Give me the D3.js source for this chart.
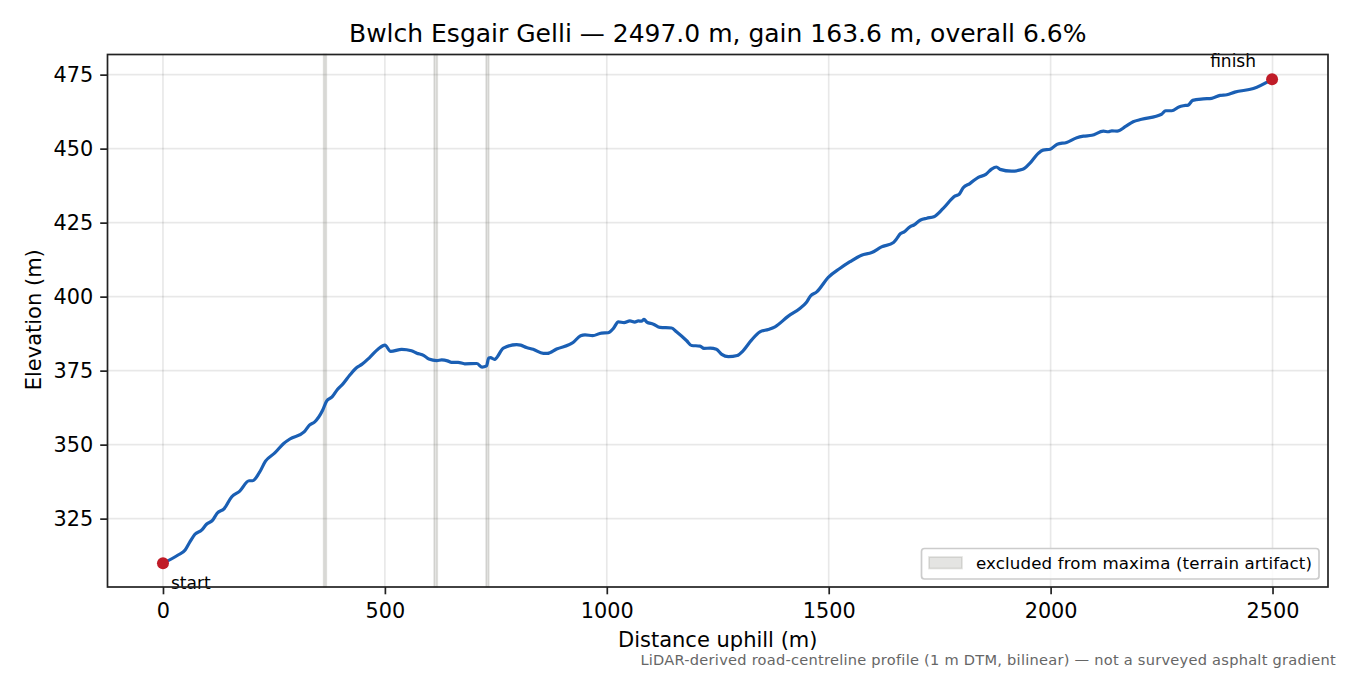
<!DOCTYPE html>
<html>
<head>
<meta charset="utf-8">
<script src="https://cdn.jsdelivr.net/npm/d3@7"></script>
<style>
  html, body { margin: 0; padding: 0; background: #fff; }
  svg { display: block; }
  text { font-family: "DejaVu Sans", sans-serif; fill: #000; }
</style>
</head>
<body>
<svg id="chart" width="1350" height="675"></svg>
<script>
const distance = [0, 34, 50, 61, 72, 87, 98, 112, 122, 138, 155, 173, 194, 202, 217, 231, 252, 272, 286, 318, 330, 342, 360, 369, 381, 393, 406, 421, 436, 448, 466, 485, 500, 513, 538, 560, 572, 588, 599, 617, 628, 641, 650, 665, 680, 707, 719, 729, 734, 738, 747, 767, 797, 806, 819, 834, 857, 866, 887, 924, 941, 951, 968, 988, 1003, 1015, 1026, 1039, 1052, 1063, 1071, 1078, 1084, 1090, 1105, 1120, 1146, 1157, 1180, 1191, 1210, 1219, 1233, 1247, 1259, 1274, 1294, 1307, 1326, 1345, 1364, 1379, 1409, 1435, 1449, 1459, 1473, 1499, 1525, 1548, 1574, 1597, 1619, 1646, 1652, 1662, 1670, 1683, 1692, 1707, 1721, 1737, 1758, 1785, 1794, 1803, 1818, 1837, 1854, 1867, 1878, 1886, 1912, 1937, 1953, 1972, 1983, 1999, 2015, 2036, 2059, 2074, 2093, 2119, 2130, 2138, 2150, 2168, 2186, 2205, 2250, 2259, 2273, 2289, 2299, 2310, 2320, 2344, 2363, 2382, 2397, 2415, 2457, 2499];
const elevation = [309.9, 312.7, 314.4, 317.2, 319.7, 321.1, 323.1, 324.5, 326.8, 328.4, 332.4, 334.3, 337.8, 337.8, 340.5, 344.4, 347.2, 350.4, 351.9, 354.3, 356.6, 357.7, 361.7, 364.8, 366.1, 368.6, 370.6, 373.5, 376, 377.1, 379.5, 382.3, 383.6, 381.5, 382.2, 381.7, 380.9, 380.1, 378.9, 378.4, 378.6, 378.3, 377.8, 377.8, 377.3, 377.4, 376.2, 376.6, 379.3, 379.4, 378.8, 382.6, 383.8, 383.6, 382.8, 382.2, 380.8, 380.8, 382.3, 384.5, 386.8, 387.1, 386.8, 387.7, 387.8, 389.3, 391.5, 391.2, 391.8, 391.4, 391.8, 391.7, 392.3, 391.4, 390.7, 389.6, 389.4, 388.1, 385.1, 383.5, 383.3, 382.5, 382.6, 382.2, 380.5, 379.7, 380.1, 381.7, 385.3, 388.1, 388.9, 389.8, 393.4, 396, 397.9, 400.2, 401.6, 406.5, 409.5, 411.8, 414, 414.9, 416.8, 418.3, 419.3, 421.3, 421.9, 423.6, 424.2, 425.9, 426.5, 427, 429.8, 434, 434.6, 436.8, 438.2, 440.3, 441.3, 443.1, 443.8, 443, 442.4, 443, 445, 448.4, 449.5, 449.8, 451.5, 452.1, 453.7, 454.2, 454.5, 455.9, 455.7, 456, 455.9, 457.4, 459.1, 459.9, 461.6, 462.8, 462.8, 464.1, 464.5, 464.7, 466.3, 466.8, 467, 468, 468.2, 469.1, 470.3, 473.4];

const excludedStart = [362, 611, 728];
const excludedEnd = [368, 618, 734];

const xTicks = [0, 500, 1000, 1500, 2000, 2500];
const yTicks = [325, 350, 375, 400, 425, 450, 475];

const titleText = 'Bwlch Esgair Gelli \u2014 2497.0 m, gain 163.6 m, overall 6.6%';
const legendText = 'excluded from maxima (terrain artifact)';
const footerText = 'LiDAR-derived road-centreline profile (1 m DTM, bilinear) \u2014 not a surveyed asphalt gradient';

const plotLeft = 107.5, plotRight = 1328, plotTop = 54.5, plotBottom = 587;

const xScale = d3.scaleLinear().domain([-125, 2625]).range([plotLeft, plotRight]);
const yScale = d3.scaleLinear().domain([301.9, 481.8]).range([plotBottom, plotTop]);

const svg = d3.select('#chart');

// grid
svg.append('g').selectAll('line').data(xTicks).join('line')
  .attr('x1', d => xScale(d)).attr('x2', d => xScale(d))
  .attr('y1', plotTop).attr('y2', plotBottom)
  .attr('stroke', '#000').attr('stroke-opacity', 0.09).attr('stroke-width', 1.7);
svg.append('g').selectAll('line').data(yTicks).join('line')
  .attr('x1', plotLeft).attr('x2', plotRight)
  .attr('y1', d => yScale(d)).attr('y2', d => yScale(d))
  .attr('stroke', '#000').attr('stroke-opacity', 0.09).attr('stroke-width', 1.7);

// excluded spans
svg.append('g').selectAll('rect').data(excludedStart).join('rect')
  .attr('x', d => xScale(d))
  .attr('width', (d, i) => xScale(excludedEnd[i]) - xScale(d))
  .attr('y', plotTop).attr('height', plotBottom - plotTop)
  .attr('fill', '#77776e').attr('fill-opacity', 0.2)
  .attr('stroke', '#77776e').attr('stroke-opacity', 0.2).attr('stroke-width', 1.7);

const line = d3.line()
  .x((d, i) => xScale(distance[i]))
  .y(d => yScale(d))
  .curve(d3.curveMonotoneX);
svg.append('path').datum(elevation)
  .attr('d', line)
  .attr('fill', 'none')
  .attr('stroke', '#1a5fb4')
  .attr('stroke-width', 3.2)
  .attr('stroke-linejoin', 'round');

// start and finish markers
const lastIdx = distance.length - 1;
svg.append('g').selectAll('circle').data([0, lastIdx]).join('circle')
  .attr('cx', i => xScale(distance[i]))
  .attr('cy', i => yScale(elevation[i]))
  .attr('r', 6)
  .attr('fill', '#c01c28');

svg.append('text').text('start')
  .attr('x', 171).attr('y', 589).attr('font-size', 17);
svg.append('text').text('finish')
  .attr('x', 1256).attr('y', 67).attr('text-anchor', 'end').attr('font-size', 17);

// axes
const xAxis = svg.append('g').attr('transform', `translate(0,${plotBottom})`)
  .call(d3.axisBottom(xScale).tickValues(xTicks).tickFormat(d3.format('d')).tickSize(7.3).tickPadding(9));
const yAxis = svg.append('g').attr('transform', `translate(${plotLeft},0)`)
  .call(d3.axisLeft(yScale).tickValues(yTicks).tickFormat(d3.format('d')).tickSize(7.3).tickPadding(7));
[xAxis, yAxis].forEach(a => {
  a.select('.domain').remove();
  a.selectAll('.tick line').attr('stroke', '#222').attr('stroke-width', 1.7);
  a.selectAll('.tick text').attr('font-size', 20.8).attr('font-family', '"DejaVu Sans", sans-serif');
});

svg.append('rect')
  .attr('x', plotLeft).attr('y', plotTop)
  .attr('width', plotRight - plotLeft).attr('height', plotBottom - plotTop)
  .attr('fill', 'none').attr('stroke', '#222').attr('stroke-width', 1.7);

// legend
svg.append('rect')
  .attr('x', 921.5).attr('y', 548.5).attr('width', 397.5).attr('height', 30.5).attr('rx', 3)
  .attr('fill', '#fff').attr('fill-opacity', 0.8)
  .attr('stroke', '#ccc').attr('stroke-width', 1.7);
svg.append('rect')
  .attr('x', 929).attr('y', 557).attr('width', 33).attr('height', 11.5)
  .attr('fill', '#77776e').attr('fill-opacity', 0.2)
  .attr('stroke', '#77776e').attr('stroke-opacity', 0.2).attr('stroke-width', 1.7);
svg.append('text').text(legendText)
  .attr('x', 976).attr('y', 569).attr('font-size', 16.67).attr('letter-spacing', 0.13);

// titles
svg.append('text').text(titleText)
  .attr('x', (plotLeft + plotRight) / 2).attr('y', 42).attr('text-anchor', 'middle').attr('font-size', 25);
svg.append('text').text('Distance uphill (m)')
  .attr('x', (plotLeft + plotRight) / 2).attr('y', 647).attr('text-anchor', 'middle').attr('font-size', 21);
svg.append('text').text('Elevation (m)')
  .attr('transform', `translate(41,${(plotTop + plotBottom) / 2 - 1}) rotate(-90)`)
  .attr('text-anchor', 'middle').attr('font-size', 21);
svg.append('text').text(footerText)
  .attr('x', 1336).attr('y', 665).attr('text-anchor', 'end').attr('font-size', 14.6).attr('letter-spacing', 0.25)
  .style('fill', '#666');
</script>
</body>
</html>
